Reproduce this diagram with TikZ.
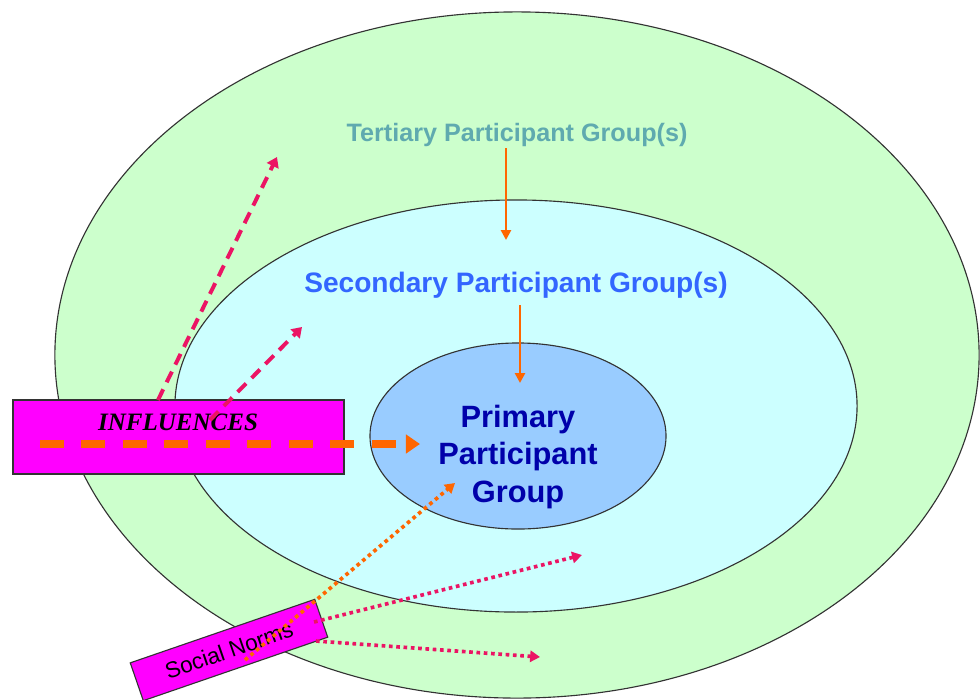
\documentclass[tikz,border=0pt]{standalone}
\usepackage{fontspec}
\setmainfont{Liberation Sans}
\newfontfamily\timesfont{Liberation Serif}
\usepackage{tikz}
\usetikzlibrary{arrows.meta,shapes.geometric,positioning}
\definecolor{ringout}{HTML}{CCFFCC}
\definecolor{ringmid}{HTML}{CCFFFF}
\definecolor{ringin}{HTML}{99CCFF}
\definecolor{tertc}{RGB}{95,170,175}
\definecolor{secc}{HTML}{3366FF}
\definecolor{primc}{HTML}{0000AA}
\definecolor{orng}{HTML}{FF6600}
\definecolor{crims}{RGB}{235,20,100}
\definecolor{magfill}{HTML}{FF00FF}

\begin{document}
\begin{tikzpicture}[x=0.025cm,y=-0.025cm,>=Latex,
  ring/.style={ellipse,draw=black!80,line width=0.8pt,inner sep=0pt},
  grp/.style={font=\bfseries,align=center,inner sep=1pt},
  magbox/.style={draw=black!80,fill=magfill,line width=0.8pt,inner sep=0pt},
  down/.style={draw=orng,line width=2pt,-{Triangle[width=7pt,length=7pt]}},
  infarr/.style={draw=orng,line width=5.5pt,dash pattern=on 17pt off 12.5pt,
    -{Triangle[width=13pt,length=10pt]}},
  pinkdash/.style={draw=crims,line width=2.8pt,dash pattern=on 8.5pt off 5.5pt,
    -{Triangle[width=9pt,length=7pt]}},
  dots/.style={line width=2.6pt,dash pattern=on 2.6pt off 2.6pt,
    -{Triangle[width=8pt,length=7pt]}}]
\useasboundingbox (0,0) rectangle (980,699);
\clip (0,0) rectangle (980,699);
\node[ring,fill=ringout,minimum width=23.1cm,minimum height=17.15cm] (outer) at (517,355) {};
\node[ring,fill=ringmid,minimum width=17.05cm,minimum height=10.3cm] (mid) at (516,406) {};
\node[ring,fill=ringin,minimum width=7.4cm,minimum height=4.65cm] (inner) at (518,436) {};
\node[grp,text=tertc,font=\fontsize{17.9}{20}\bfseries\selectfont] (tert) at (517,135) {Tertiary Participant Group(s)};
\node[grp,text=secc,font=\fontsize{20}{23}\bfseries\selectfont] (sec) at (516,285) {Secondary Participant Group(s)};
\node[grp,text=primc,font=\fontsize{21.9}{26.5}\bfseries\selectfont] (prim) at (518,457) {Primary\\Participant\\Group};
% ---- orange arrows going in ----
\coordinate (tEnd) at (506,240);
\coordinate (sEnd) at (520,383);
\draw[down] (tert.south -| tEnd) -- (tEnd);
\draw[down] ([yshift=-4pt]sec.south -| sEnd) -- (sEnd);
% ---- influences ----
\node[magbox,minimum width=8.275cm,minimum height=1.85cm] (infl) at (178.5,437) {};
\node[font=\timesfont\fontsize{17.8}{20}\bfseries\itshape\selectfont] (inflT) at (178,422) {INFLUENCES};
\coordinate (iA) at (158,400);
\coordinate (iB) at (277,157);
\coordinate (iC) at (210,420);
\coordinate (iD) at (302,327);
\draw[pinkdash] (iA) -- (iB);
\draw[pinkdash] (iC) -- (iD);
\coordinate (iS) at (40,444);
\coordinate (iE) at (420,444);
\draw[infarr] (iS) -- (iE);
% ---- social norms ----
\node[magbox,rotate=19,minimum width=4.875cm,minimum height=1cm,
  font=\fontsize{16}{18}\selectfont] (norms) at (229,650) {Social Norms};
\coordinate (nA) at (245,660);
\coordinate (nB) at (455,483);
\coordinate (nC) at (314,622);
\coordinate (nD) at (582,555);
\coordinate (nE) at (316,641);
\coordinate (nF) at (540,657);
\draw[dots,draw=orng] (nA) -- (nB);
\draw[dots,draw=crims] (nC) -- (nD);
\draw[dots,draw=crims] (nE) -- (nF);
\end{tikzpicture}
\end{document}
